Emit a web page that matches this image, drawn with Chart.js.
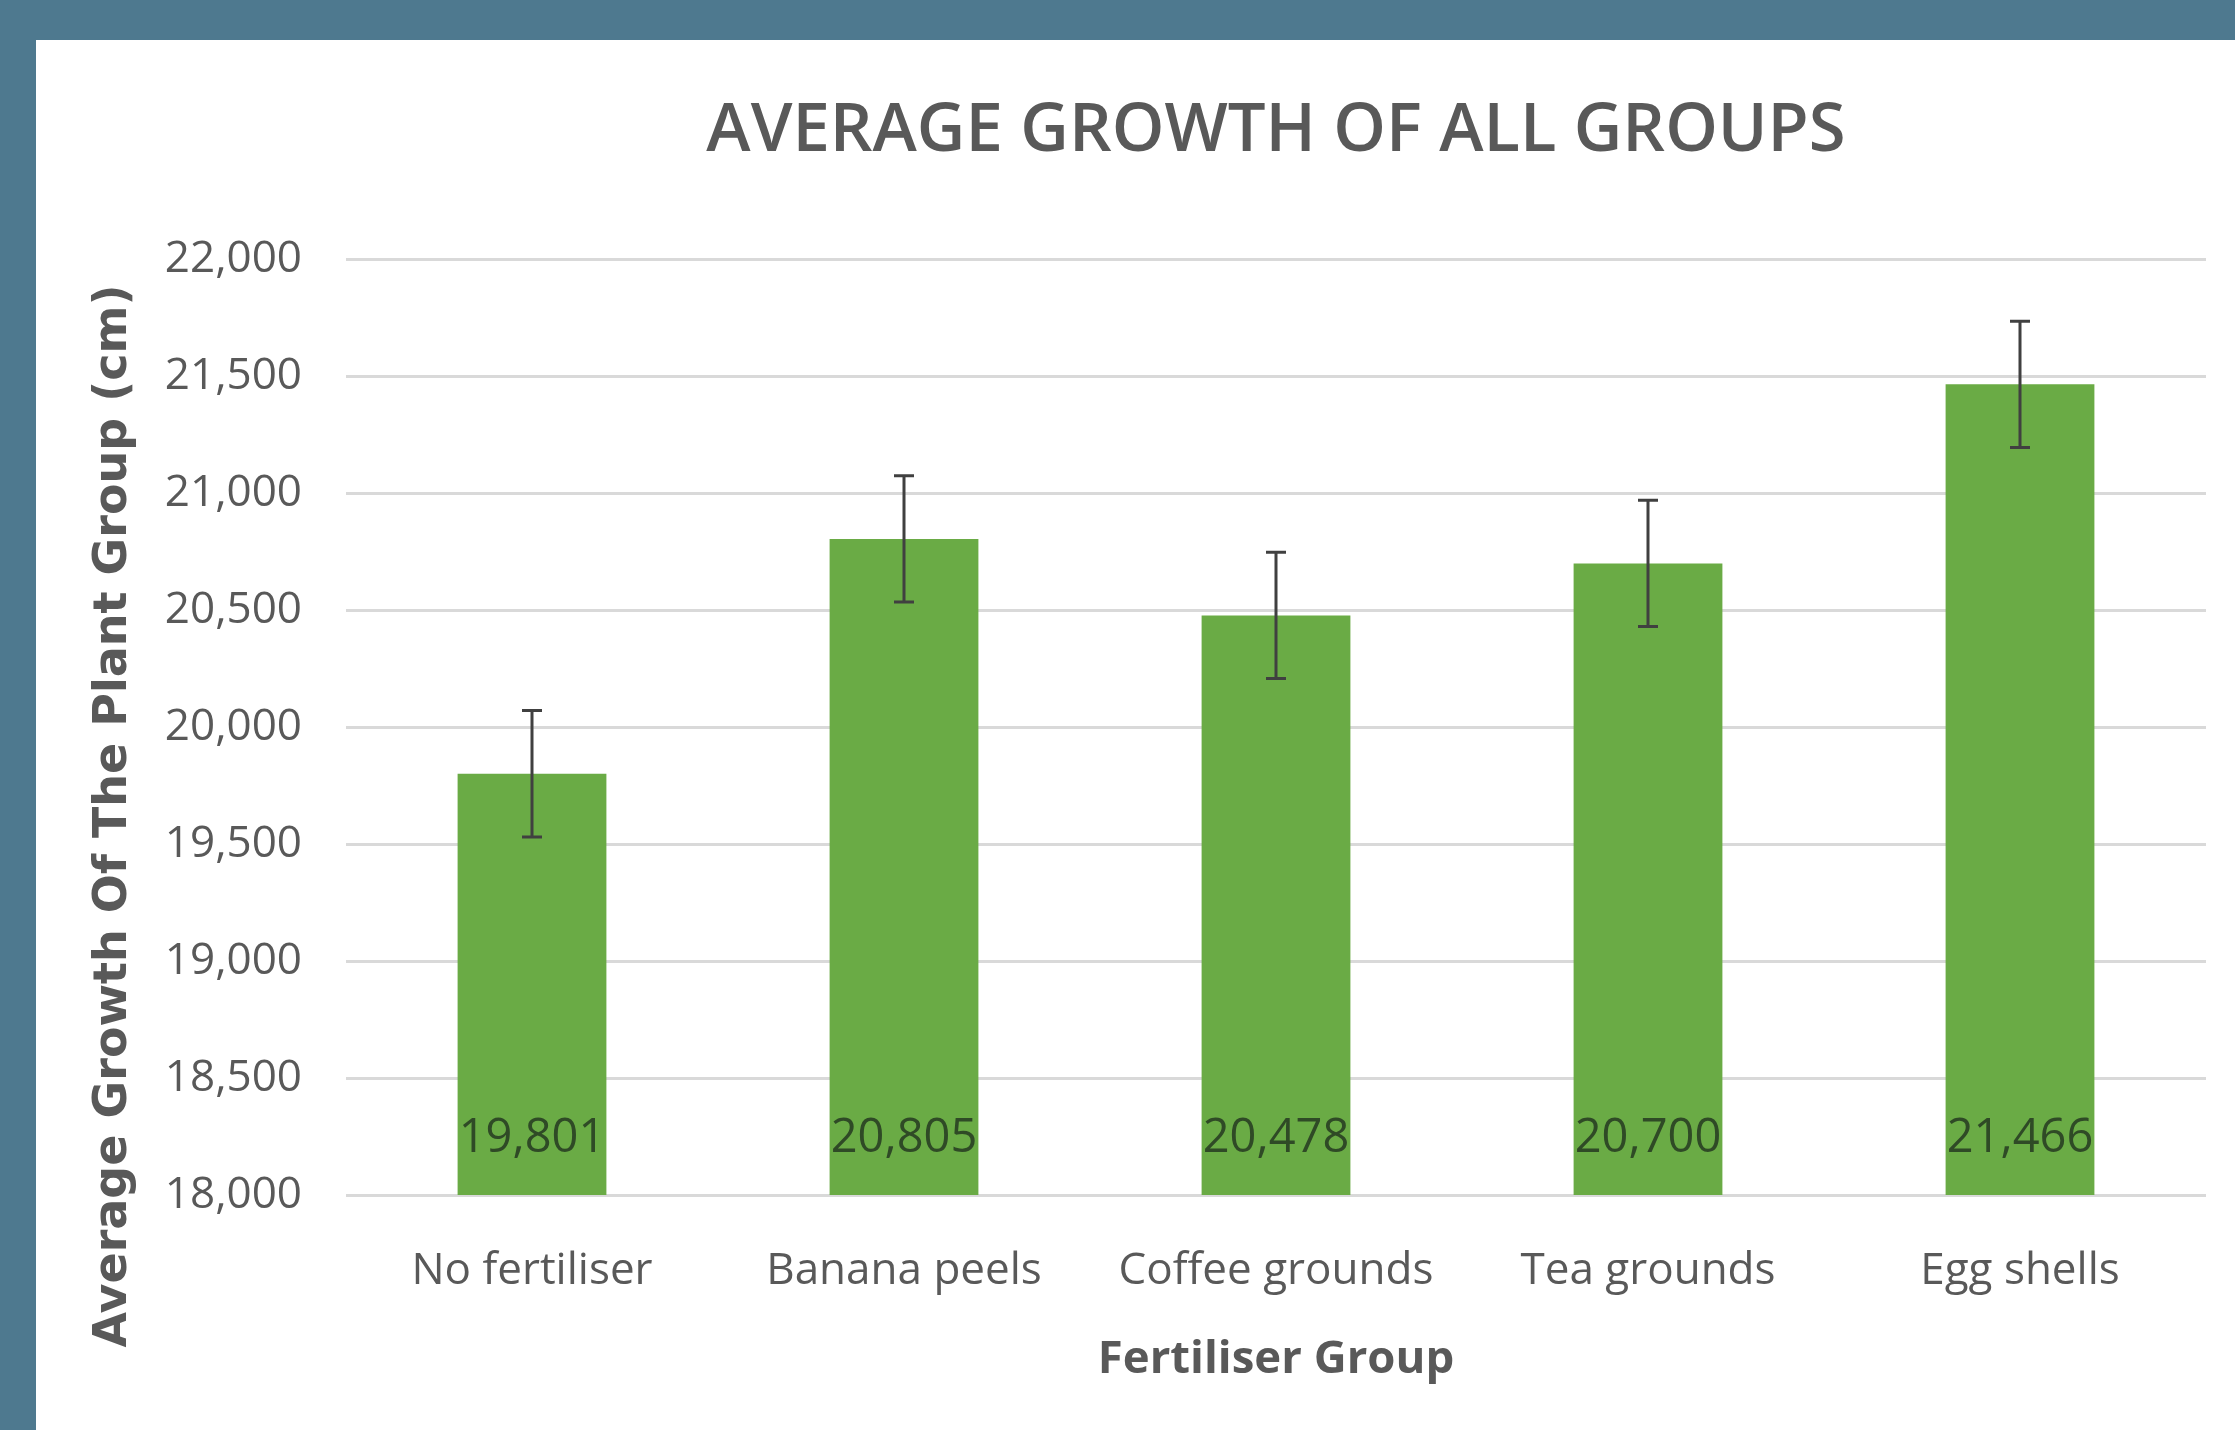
<!DOCTYPE html>
<html>
<head>
<meta charset="utf-8">
<title>Average Growth of All Groups</title>
<script src="https://cdn.jsdelivr.net/npm/chart.js@4"></script>
<style>
  html, body { margin: 0; padding: 0; }
  body { width: 2235px; height: 1430px; background: #4e798f; position: relative; overflow: hidden; }
  #panel { position: absolute; left: 36px; top: 40px; width: 2199px; height: 1390px; background: #ffffff; }
</style>
</head>
<body>
<div id="panel"><canvas id="growthChart"></canvas></div>
<script>
// values
const groups = ['No fertiliser', 'Banana peels', 'Coffee grounds', 'Tea grounds', 'Egg shells'];
const avgGrowth = [19801, 20805, 20478, 20700, 21466];
const growthError = [270, 270, 270, 270, 270];
const yTicks = [18000, 18500, 19000, 19500, 20000, 20500, 21000, 21500, 22000];

const textGrey = '#595959';
const fontFamily = '"Open Sans", "Noto Sans", sans-serif';

// error bars drawn from the y scale
const errorBars = {
    id: 'errorBars',
    afterDatasetsDraw(chart) {
        const ctx = chart.ctx;
        const y = chart.scales.y;
        const bars = chart.getDatasetMeta(0).data;
        ctx.save();
        ctx.strokeStyle = '#404040';
        ctx.lineWidth = 3;
        bars.forEach((bar, i) => {
            const top = y.getPixelForValue(avgGrowth[i] + growthError[i]);
            const bottom = y.getPixelForValue(avgGrowth[i] - growthError[i]);
            ctx.beginPath();
            ctx.moveTo(bar.x, top);
            ctx.lineTo(bar.x, bottom);
            ctx.moveTo(bar.x - 10, top);
            ctx.lineTo(bar.x + 10, top);
            ctx.moveTo(bar.x - 10, bottom);
            ctx.lineTo(bar.x + 10, bottom);
            ctx.stroke();
        });
        ctx.restore();
    }
};

// value labels sitting at the inside base of each bar
const baseLabels = {
    id: 'baseLabels',
    afterDatasetsDraw(chart) {
        const ctx = chart.ctx;
        const base = chart.scales.y.getPixelForValue(yTicks[0]);
        const bars = chart.getDatasetMeta(0).data;
        ctx.save();
        ctx.font = '47px ' + fontFamily;
        ctx.fillStyle = '#2f4a26';
        ctx.textAlign = 'center';
        ctx.textBaseline = 'middle';
        bars.forEach((bar, i) => {
            ctx.fillText(avgGrowth[i].toLocaleString('en-US'), bar.x, base - 56);
        });
        ctx.restore();
    }
};

// y axis title, placed lower than the plot centre like the original
const yTitle = {
    id: 'yTitle',
    afterDraw(chart) {
        const ctx = chart.ctx;
        const area = chart.chartArea;
        ctx.save();
        ctx.translate(area.left - 232, area.bottom - 379);
        ctx.rotate(-Math.PI / 2);
        ctx.font = 'bold 46px "DejaVu Sans", Verdana, sans-serif';
        ctx.fillStyle = textGrey;
        ctx.textAlign = 'center';
        ctx.textBaseline = 'middle';
        ctx.fillText('Average Growth Of The Plant Group (cm)', 0, 0);
        ctx.restore();
    }
};

const ctx = document.getElementById('growthChart').getContext('2d');
const growthChart = new Chart(ctx, {
    type: 'bar',
    data: {
        labels: groups,
        datasets: [{
            label: 'Average growth',
            data: avgGrowth,
            backgroundColor: '#6aab45',
            borderWidth: 0,
            barPercentage: 0.4,
            categoryPercentage: 1.0
        }]
    },
    options: {
        responsive: true,
        maintainAspectRatio: false,
        animation: false,
        layout: {
            padding: { top: 12, left: 0, right: 29, bottom: 43 }
        },
        plugins: {
            legend: { display: false },
            tooltip: { enabled: false },
            title: {
                display: true,
                text: 'AVERAGE GROWTH OF ALL GROUPS',
                fullSize: false,
                color: textGrey,
                font: { family: fontFamily, size: 67, weight: '600' },
                padding: { top: 40, bottom: 87 }
            }
        },
        scales: {
            x: {
                grid: { display: false, drawTicks: false },
                border: { display: false },
                ticks: {
                    color: textGrey,
                    padding: 50,
                    font: { family: fontFamily, size: 44 }
                },
                title: {
                    display: true,
                    text: 'Fertiliser Group',
                    color: textGrey,
                    font: { family: fontFamily, size: 45.5, weight: 'bold' },
                    padding: { top: 0, bottom: 0 }
                },
                afterFit: function(scale) { scale.height = 192; }
            },
            y: {
                min: yTicks[0],
                max: yTicks[yTicks.length - 1],
                grid: { color: '#d9d9d9', lineWidth: 3, drawTicks: false },
                border: { display: false },
                ticks: {
                    stepSize: yTicks[1] - yTicks[0],
                    color: textGrey,
                    padding: 44,
                    font: { family: fontFamily, size: 44 },
                    callback: function(value) { return value.toLocaleString('en-US'); }
                },
                afterFit: function(scale) { scale.width = 310; }
            }
        }
    },
    plugins: [errorBars, baseLabels, yTitle]
});
</script>
</body>
</html>
